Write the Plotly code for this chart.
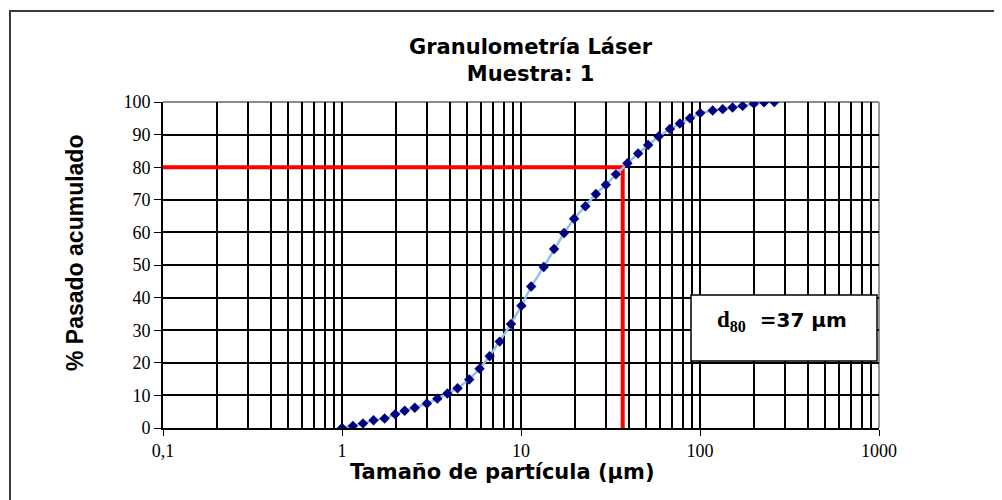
import plotly.graph_objects as go

# ---- data ----
size_um = [1.00, 1.15, 1.31, 1.50, 1.73, 1.98, 2.24, 2.55, 2.98, 3.41, 3.88, 4.42,
           5.14, 5.87, 6.68, 7.60, 8.79, 10.05, 11.4, 13.4, 15.3, 17.4, 19.8, 22.9,
           26.2, 29.8, 33.9, 39.3, 45.1, 51.3, 58.7, 67.9, 77.2, 87.9, 100.3, 117.7,
           133.8, 152, 173, 200, 228, 260]
passing_pct = [0, 0.65, 1.4, 2.4, 2.9, 4.2, 5.3, 6.2, 7.5, 9.0, 10.6, 12.2,
               14.9, 18.2, 22.0, 26.5, 31.9, 37.5, 43.4, 49.4, 54.9, 59.8, 64.2, 68.0,
               71.8, 74.6, 77.8, 81.2, 84.2, 86.8, 89.4, 91.7, 93.4, 95.0, 96.6, 97.4,
               97.8, 98.3, 98.8, 99.5, 99.9, 100]
d80_value = 37
p80_value = 80
x_min = 0.1
x_tickvals = [0.1, 1, 10, 100, 1000]
x_ticktext = ["0,1", "1", "10", "100", "1000"]
y_tickvals = [0, 10, 20, 30, 40, 50, 60, 70, 80, 90, 100]

minor_vals = [d * m for d in [0.1, 1, 10, 100] for m in range(2, 10)]

OFF = 8  # page body margin
W, H = 1002, 500
# plot area in window pixels: x 163..879, y 102..428
L, T = 163 - OFF, 102 - OFF
R, B = W - (879 - OFF), H - (428 - OFF)
PW, PH = W - L - R, H - T - B


def px(x):
    return (x - OFF - L) / PW


def py(y):
    return (H - B - (y - OFF)) / PH


fig = go.Figure()

# d80 guide lines
fig.add_trace(go.Scatter(
    x=[x_min, d80_value, d80_value], y=[p80_value, p80_value, 0],
    mode="lines", line=dict(color="#FF0000", width=4),
    showlegend=False, hoverinfo="skip"))

# cumulative passing curve
fig.add_trace(go.Scatter(
    x=size_um, y=passing_pct, mode="lines+markers",
    line=dict(color="#8FC3EB", width=2.5),
    marker=dict(symbol="diamond", size=8, color="#000080"),
    showlegend=False))

grid = "#000000"
fig.update_xaxes(
    type="log", range=[-1, 3],
    tickvals=x_tickvals, ticktext=x_ticktext,
    ticks="outside", ticklen=6, tickwidth=1.4, tickcolor="#000",
    showgrid=True, gridcolor=grid, gridwidth=1.5,
    minor=dict(tickvals=minor_vals, showgrid=True, gridcolor=grid, gridwidth=1.5, ticks=""),
    showline=True, linecolor="#000", linewidth=1.6,
    zeroline=False,
    tickfont=dict(family="Liberation Serif", size=18, color="#000"),
)
fig.update_yaxes(
    range=[0, 100], tickvals=y_tickvals,
    ticks="outside", ticklen=7, tickwidth=1.4, tickcolor="#000",
    showgrid=True, gridcolor=grid, gridwidth=1.5,
    showline=True, linecolor="#000", linewidth=1.6,
    zeroline=False,
    tickfont=dict(family="Liberation Serif", size=18, color="#000"),
)

shapes = [
    # top / right plot border in gray
    dict(type="line", xref="paper", yref="paper", x0=0, x1=1, y0=1, y1=1,
         line=dict(color="#8C8C8C", width=1.8), layer="between"),
    dict(type="line", xref="paper", yref="paper", x0=1, x1=1, y0=0, y1=1,
         line=dict(color="#8C8C8C", width=1.8), layer="between"),
    # outer chart frame
    dict(type="rect", xref="paper", yref="paper",
         x0=px(10), x1=px(1015), y0=py(515), y1=py(11),
         line=dict(color="#3A3A3A", width=2), fillcolor="rgba(0,0,0,0)"),
    # d80 label box
    dict(type="rect", xref="paper", yref="paper",
         x0=px(691), x1=px(877), y0=py(361), y1=py(295),
         line=dict(color="#000", width=1.5), fillcolor="#FFFFFF"),
]

annotations = [
    dict(text="<b>Granulometría Láser</b><br><b>Muestra: 1</b>",
         xref="paper", yref="paper", x=px(531), y=py(60),
         xanchor="center", yanchor="middle", showarrow=False,
         font=dict(family="DejaVu Sans", size=21, color="#000")),
    dict(text="<b>Tamaño de partícula (μm)</b>",
         xref="paper", yref="paper", x=px(502), y=py(472),
         xanchor="center", yanchor="middle", showarrow=False,
         font=dict(family="DejaVu Sans", size=21, color="#000")),
    dict(text="<b>% Pasado acumulado</b>", textangle=-90,
         xref="paper", yref="paper", x=px(75), y=py(253),
         xanchor="center", yanchor="middle", showarrow=False,
         font=dict(family="Liberation Sans", size=23, color="#000")),
    dict(text='<b><span style="font-family:Liberation Serif;font-size:23px">d<sub>80</sub></span>  =37 μm</b>',
         xref="paper", yref="paper", x=px(782), y=py(321),
         xanchor="center", yanchor="middle", showarrow=False,
         font=dict(family="DejaVu Sans", size=20, color="#000")),
]

fig.update_layout(
    width=W, height=H, autosize=False,
    margin=dict(l=L, r=R, t=T, b=B, pad=0),
    paper_bgcolor="#FFFFFF", plot_bgcolor="#FFFFFF",
    shapes=shapes, annotations=annotations,
    showlegend=False,
)

fig.write_html("out.html")
